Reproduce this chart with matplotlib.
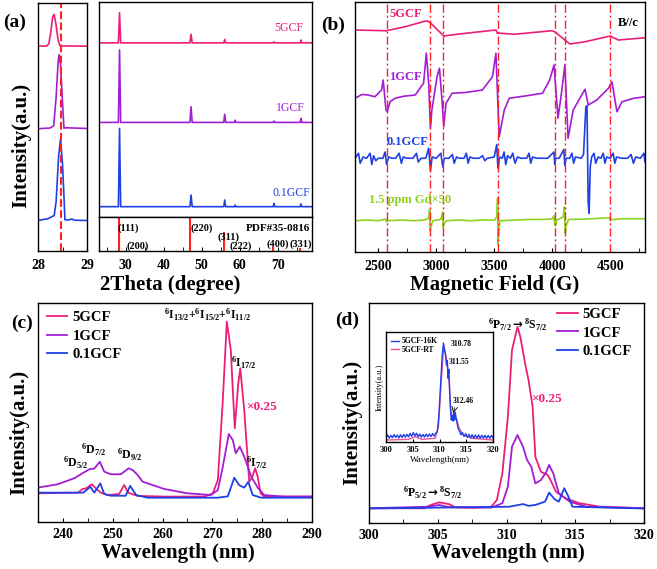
import matplotlib
matplotlib.use('Agg')
import matplotlib.pyplot as plt
from matplotlib.ticker import MultipleLocator, NullLocator

plt.rcParams['font.family'] = ['Liberation Serif', 'DejaVu Serif']
plt.rcParams['font.weight'] = 'bold'
plt.rcParams['mathtext.fontset'] = 'custom'
plt.rcParams['mathtext.rm'] = 'Liberation Serif:bold'
plt.rcParams['mathtext.bf'] = 'Liberation Serif:bold'
plt.rcParams['mathtext.it'] = 'Liberation Serif:bold:italic'
plt.rcParams['mathtext.sf'] = 'DejaVu Sans:bold'
plt.rcParams['mathtext.default'] = 'bf'
plt.rcParams['axes.linewidth'] = 1.0
plt.rcParams['xtick.direction'] = 'in'
plt.rcParams['ytick.direction'] = 'in'

PINK = '#EB1E78'
PURPLE = '#A21ED4'
BLUE = '#1E40E6'
GREEN = '#8CD21E'
RED = '#FF2020'

# ---------------- (a) XRD, zoom 28-29 deg
zx5 = [28.0, 28.18, 28.22, 28.26, 28.3, 28.33, 28.37, 28.41, 28.45, 29.0]
zy5 = [82.6, 82.7, 83.5, 88.0, 94.5, 95.4, 91.0, 85.0, 82.7, 82.6]
zx1 = [28.0, 28.25, 28.32, 28.37, 28.41, 28.43, 28.46, 28.5, 28.53, 28.56, 29.0]
zy1 = [49.3, 49.6, 50.5, 62.0, 76.0, 79.2, 75.0, 60.0, 49.5, 49.7, 49.4]
zx01 = [28.0, 28.2, 28.33, 28.37, 28.42, 28.46, 28.5, 28.53, 28.55, 28.62, 28.69, 28.75, 29.0]
zy01 = [12.3, 13.0, 14.3, 20.0, 38.0, 45.2, 35.0, 22.0, 12.6, 12.5, 12.9, 12.4, 12.3]
ref_line = 28.46

# ---------------- (a) XRD, full range
xrd_x = [23, 28.1, 28.4, 28.7, 46.9, 47.2, 47.5, 55.8, 56.05, 56.3, 58.6, 58.8, 59.0,
         68.8, 69.0, 69.2, 75.9, 76.1, 76.3, 79]
xrd5 = [81, 81, 95, 81, 81, 85, 81, 81, 82.6, 81, 81, 81, 81,
        81, 81.5, 81, 81, 82.3, 81, 81]
xrd1 = [44, 44, 77.7, 44, 44, 51.3, 44, 44, 47.8, 44, 44, 45, 44,
        44, 44.6, 44, 44, 45.9, 44, 44]
xrd01 = [4.8, 4.8, 41.2, 4.8, 4.8, 10.2, 4.8, 4.8, 7.9, 4.8, 4.8, 5.5, 4.8,
         4.8, 6.3, 4.8, 4.8, 6.1, 4.8, 4.8]
pdf_pos = [28.27, 47.0, 55.76, 68.67, 75.85]
pdf_int = [100, 100, 57, 13, 9]

# ---------------- (b) EPR
epr_lines = [2572, 2943, 3057, 3529, 4022, 4109, 4500]
e5_x = [2300, 2570, 2732, 2917, 2950, 3065, 3196, 3515, 3526, 3674, 3996, 4022, 4152,
        4283, 4500, 4570, 4804]
e5_y = [88.8, 88.5, 90.1, 92.5, 91.7, 86.4, 87.2, 88.8, 87.6, 87.1, 88.5, 88.1, 83.2,
        84.1, 86.4, 84.8, 85.7]
e1_x = [2300, 2360, 2413, 2471, 2529, 2543, 2567, 2578, 2602, 2645, 2720, 2819, 2891,
        2915, 2935, 2950, 2963, 3007, 3028, 3050, 3065, 3085, 3137, 3250, 3398, 3485,
        3515, 3543, 3587, 3630, 3780, 3917, 3978, 4016, 4050, 4080, 4109, 4137, 4181,
        4283, 4311, 4384, 4485, 4515, 4558, 4602, 4703, 4804]
e1_y = [61.5, 63.0, 62.8, 62.1, 64.8, 68.8, 56.8, 56.1, 60.1, 61.5, 62.3, 62.8, 67.5,
        79.5, 67.6, 49.5, 56.8, 70.1, 73.5, 60.8, 50.1, 59.5, 63.5, 63.8, 64.8, 70.1,
        79.5, 46.1, 56.8, 61.5, 62.5, 63.5, 68.8, 74.8, 53.5, 63.6, 74.8, 45.5, 56.8,
        65.1, 58.8, 60.8, 65.5, 68.1, 56.1, 60.1, 61.5, 62.1]
e01_x = [2300, 2330, 2345, 2370, 2400, 2430, 2445, 2460, 2480, 2500, 2540, 2560, 2572,
         2590, 2620, 2650, 2680, 2700, 2715, 2750, 2800, 2830, 2845, 2870, 2910, 2935,
         2943, 2950, 2965, 3000, 3040, 3057, 3070, 3110, 3140, 3155, 3175, 3200, 3240,
         3260, 3275, 3290, 3320, 3370, 3400, 3420, 3440, 3500, 3522, 3529, 3535, 3545,
         3570, 3585, 3600, 3615, 3640, 3660, 3680, 3700, 3730, 3780, 3800, 3815, 3830,
         3870, 3920, 3960, 4015, 4022, 4030, 4060, 4100, 4109, 4120, 4150, 4170, 4185,
         4200, 4250, 4270, 4290, 4300, 4310, 4318, 4328, 4340, 4360, 4375, 4395, 4420,
         4440, 4455, 4470, 4500, 4525, 4540, 4555, 4600, 4650, 4680, 4700, 4720, 4760,
         4790, 4800]
e01_y = [37.5, 39.5, 35.5, 38, 37.5, 39.5, 35, 38.5, 36.5, 37.5, 37.5, 40, 35,
         38, 37.5, 37.5, 39.5, 35.5, 38, 37.5, 37.5, 39.5, 36, 37.5, 37.5, 41.5,
         37, 32.5, 38, 37.5, 39.5, 34, 37.5, 37.5, 39, 35.5, 38, 37.5, 37.5,
         39.5, 35.5, 38, 37.5, 37.5, 38.5, 36.5, 37.5, 38, 43, 36, 33.5, 38,
         37.5, 40, 35, 38.5, 37.5, 39.5, 35.5, 38, 37.5, 37.5, 39.5, 35.5, 38,
         37.5, 37.5, 37.5, 40, 35, 37.5, 37.5, 41, 34.5, 37.5, 37.5, 39.5, 35.5,
         38, 37.5, 39, 58, 58.5, 20, 15.5, 34, 38, 39.5, 35.5, 38, 37.5,
         39.5, 35.5, 38, 37.5, 39.5, 35.5, 38, 37.5, 37.5, 39, 35.5, 38, 37.5,
         39.5, 36]
eg_x = [2300, 2400, 2500, 2565, 2572, 2580, 2700, 2800, 2900, 2935, 2943, 2948, 2955,
        2970, 3040, 3055, 3060, 3068, 3090, 3200, 3300, 3400, 3500, 3522, 3529, 3534,
        3540, 3550, 3700, 3800, 3900, 4000, 4015, 4022, 4028, 4040, 4095, 4105, 4112,
        4120, 4140, 4300, 4495, 4500, 4505, 4600, 4800]
eg_y = [12.5, 12.8, 12.5, 13.2, 12.0, 12.5, 12.8, 12.5, 12.8, 13.5, 17.0, 8.5, 10.0,
        12.5, 13.0, 16.0, 9.5, 11.5, 12.5, 12.8, 12.5, 12.8, 12.7, 14.0, 21.5, 2.8,
        8.0, 12.5, 12.8, 13.0, 13.0, 13.2, 14.5, 11.0, 10.5, 12.8, 14.0, 18.0, 7.5,
        10.5, 13.0, 13.2, 13.7, 12.5, 12.9, 13.3, 13.3]

# ---------------- (c) excitation spectra
c5_x = [235.2, 243.0, 244.0, 244.6, 245.8, 246.6, 247.6, 249.0, 251.3, 252.3, 253.1,
        255.0, 260.3, 268.4, 270.1, 271.1, 272.1, 272.9, 273.7, 274.5, 275.2, 275.6,
        276.4, 277.4, 277.9, 278.6, 279.1, 279.7, 280.4, 290.0]
c5_y = [13.1, 13.4, 15.1, 15.3, 17.2, 15.4, 13.4, 12.3, 12.8, 16.9, 13.4,
        11.9, 11.6, 11.6, 13.1, 19.2, 55.7, 91.5, 78.5, 42.8, 63.3, 70.2,
        51.1, 18.4, 20.0, 24.5, 20.7, 13.1, 11.6, 11.6]
c1_x = [235.2, 238.9, 242.3, 243.9, 245.3, 246.3, 247.4, 248.3, 249.6, 251.6, 253.2,
        254.0, 255.0, 256.0, 260.3, 265.0, 269.7, 271.1, 272.1, 273.3, 274.1, 274.7,
        275.5, 276.4, 277.8, 279.1, 280.4, 284.3, 290.0]
c1_y = [15.8, 17.2, 20.0, 22.2, 24.1, 24.4, 27.5, 23.0, 21.8, 21.8, 24.5,
        23.7, 21.5, 18.4, 15.1, 13.1, 12.3, 14.6, 25.3, 40.2, 37.4, 31.4,
        34.4, 29.8, 20.7, 15.7, 12.3, 11.6, 11.6]
c01_x = [235.2, 244.1, 245.5, 246.3, 247.5, 248.3, 249.6, 252.6, 253.5, 254.7, 257.0,
         271.1, 273.1, 274.4, 275.4, 276.4, 277.2, 278.1, 279.8, 290.0]
c01_y = [13.4, 13.4, 16.1, 13.4, 17.6, 12.8, 12.0, 12.0, 16.5, 12.3, 11.1,
         11.1, 11.7, 20.2, 16.8, 15.7, 18.3, 12.3, 11.1, 11.1]

# ---------------- (d) emission spectra
d5_x = [300.0, 304.0, 304.5, 305.1, 305.8, 306.3, 307.7, 308.9, 309.3, 309.7, 310.1,
        310.4, 310.8, 311.0, 311.4, 311.6, 311.9, 312.1, 312.5, 313.0, 313.2, 313.6,
        314.3, 315.3, 316.8, 320.0]
d5_y = [6.7, 6.7, 8.2, 9.4, 8.6, 7.1, 6.9, 7.4, 10.5, 22.6, 48.3,
        78.6, 89.2, 84.7, 71.0, 65.0, 52.9, 30.1, 23.3, 21.8, 19.5, 14.2,
        11.2, 9.0, 7.4, 6.7]
d1_x = [300.0, 304.3, 305.1, 305.8, 308.9, 309.7, 310.1, 310.4, 310.8, 311.2, 311.5,
        311.8, 312.1, 312.5, 312.9, 313.1, 313.4, 313.8, 314.6, 315.8, 320.0]
d1_y = [6.7, 7.4, 8.2, 7.2, 7.0, 9.0, 16.5, 34.7, 40.0, 34.7, 28.6,
        25.6, 18.0, 19.5, 23.3, 26.4, 22.6, 13.5, 9.7, 7.4, 6.7]
d01_x = [300.0, 310.2, 311.2, 311.6, 312.1, 312.8, 313.1, 313.5, 313.8, 314.2, 314.5,
         314.8, 320.0]
d01_y = [6.6, 7.4, 8.6, 7.8, 8.2, 9.7, 13.8, 10.8, 9.7, 15.8, 12.0,
         7.4, 6.6]

# inset: 5GCF at 16 K and room temperature
rt_x = [300.1, 304.2, 305.4, 306.7, 309.2, 309.8, 310.3, 310.8, 311.3, 311.8, 312.1,
        312.6, 313.2, 313.7, 314.4, 316.0, 320.0]
rt_y = [1.8, 2.4, 4.8, 2.4, 3.4, 13.9, 53.4, 88.2, 76.1, 56.4, 29.1,
        20.0, 20.6, 12.4, 6.4, 3.4, 1.8]
lt_x = [300.0, 300.3, 300.6, 300.9, 301.2, 301.5, 301.8, 302.1, 302.4, 302.7, 303.0,
        303.3, 303.6, 303.9, 304.2, 304.5, 304.8, 305.1, 305.4, 305.7, 306.0, 306.3,
        306.6, 306.9, 307.2, 307.5, 307.8, 308.1, 308.4, 308.7, 309.0, 309.3, 309.6,
        309.9, 310.2, 310.5, 310.75, 310.9, 311.1, 311.3, 311.45, 311.6, 311.75, 311.9,
        312.05, 312.2, 312.35, 312.5, 312.65, 312.8, 312.95, 313.1, 313.25, 313.4, 313.6,
        313.8, 314.0, 314.3, 314.6, 314.9, 315.2, 315.5, 315.8, 316.1, 316.4, 316.7,
        317.0, 317.3, 317.6, 317.9, 318.2, 318.5, 318.8, 319.1, 319.4, 319.7, 320.0]
lt_y = [4.0, 6.5, 3.5, 6.0, 3.8, 6.8, 4.2, 6.3, 3.6, 6.6, 4.0,
        6.9, 4.3, 7.0, 4.6, 7.8, 5.2, 8.6, 5.6, 8.0, 4.8, 7.2,
        4.4, 6.9, 4.5, 7.1, 4.8, 7.3, 5.0, 7.6, 5.4, 8.0, 9.5,
        25, 52, 78, 90, 84, 80, 70, 74, 58, 66, 45,
        30, 20, 24, 19, 26, 20, 27, 22, 18, 14, 11,
        9.5, 6.5, 8.5, 5.0, 7.6, 4.2, 7.0, 3.8, 6.6, 3.5, 6.3,
        3.6, 6.4, 3.4, 6.2, 3.5, 6.1, 3.3, 6.0, 3.4, 5.9, 3.8]

W, H = 657, 569


def rect(l, t, r, b):
    return [l / W, 1 - b / H, (r - l) / W, (b - t) / H]


def ftext(x, y, s, **kw):
    fig.text(x / W, 1 - y / H, s, ha='center', va='center', **kw)


def clean_y(ax):
    ax.yaxis.set_major_locator(NullLocator())
    ax.yaxis.set_minor_locator(NullLocator())


def style_x(ax, major, minor, pad=6):
    ax.xaxis.set_major_locator(MultipleLocator(major))
    ax.xaxis.set_minor_locator(MultipleLocator(minor))
    ax.tick_params(axis='x', labelsize=TICK, length=3, pad=pad)
    ax.tick_params(axis='x', which='minor', length=3)


fig = plt.figure(figsize=(W / 100, H / 100), dpi=100)
TICK = 10

# ---- (a) left
axa1 = fig.add_axes(rect(38, 3, 87, 251))
axa1.plot(zx5, zy5, color=PINK, lw=1.2)
axa1.plot(zx1, zy1, color=PURPLE, lw=1.2)
axa1.plot(zx01, zy01, color=BLUE, lw=1.2)
axa1.axvline(ref_line, color=RED, ls='--', lw=1.5)
axa1.set_xlim(28, 29)
axa1.set_ylim(0, 100)
style_x(axa1, 1, 0.5)
clean_y(axa1)

# ---- (a) right
axa2 = fig.add_axes(rect(99, 2, 312, 217))
axa2.plot(xrd_x, xrd5, color=PINK, lw=1.2)
axa2.plot(xrd_x, xrd1, color=PURPLE, lw=1.2)
axa2.plot(xrd_x, xrd01, color=BLUE, lw=1.2)
axa2.set_xlim(23, 79)
axa2.set_ylim(0, 100)
axa2.xaxis.set_major_locator(NullLocator())
clean_y(axa2)
axa2.text(72.9, 88, '5GCF', color=PINK, fontsize=8.5, fontweight='normal', ha='center', va='center')
axa2.text(73.2, 50.7, '1GCF', color=PURPLE, fontsize=8.5, fontweight='normal', ha='center', va='center')
axa2.text(73.7, 11.2, '0.1GCF', color=BLUE, fontsize=8.5, fontweight='normal', ha='center', va='center')

axp = fig.add_axes(rect(99, 217, 312, 251))
axp.vlines(pdf_pos, 0, pdf_int, color=RED, lw=1.5)
axp.set_xlim(23, 79)
axp.set_ylim(0, 100)
style_x(axp, 10, 5)
clean_y(axp)
for s, x, y in [('(111)', 30.8, 67.6), ('(220)', 50.1, 67.6), ('(311)', 57.0, 41),
                ('(200)', 33.2, 14.7), ('(222)', 60.2, 14.7), ('(400)', 70.0, 20.6),
                ('(331)', 76.1, 20.6)]:
    axp.text(x, y, s, fontsize=7.5, ha='center', va='center')
axp.text(78.5, 67.6, 'PDF#35-0816', fontsize=8, ha='right', va='center')

# ---- (b)
axb = fig.add_axes(rect(355, 2, 645, 252))
axb.plot(e5_x, e5_y, color=PINK, lw=1.2)
axb.plot(e1_x, e1_y, color=PURPLE, lw=1.2)
axb.plot(e01_x, e01_y, color=BLUE, lw=1.2)
axb.plot(eg_x, eg_y, color=GREEN, lw=1.2)
for g in epr_lines:
    axb.axvline(g, color=RED, lw=1.0, dashes=(6, 2, 1.5, 2))
axb.set_xlim(2300, 4800)
axb.set_ylim(0, 100)
style_x(axb, 500, 250)
clean_y(axb)
axb.text(2735, 95.2, '5GCF', color=PINK, fontsize=9, ha='center', va='center')
axb.text(2735, 70, '1GCF', color=PURPLE, fontsize=9, ha='center', va='center')
axb.text(2752, 44, '0.1GCF', color=BLUE, fontsize=9, ha='center', va='center')
axb.text(2778, 20.8, '1.5 ppm Gd×50', color=GREEN, fontsize=9, ha='center', va='center')
axb.text(4657, 91.6, 'B//c', color='black', fontsize=9, ha='center', va='center')

# ---- (c)
axc = fig.add_axes(rect(38, 303, 312, 522))
axc.plot(c5_x, c5_y, color=PINK, lw=1.3, label='5GCF')
axc.plot(c1_x, c1_y, color=PURPLE, lw=1.3, label='1GCF')
axc.plot(c01_x, c01_y, color=BLUE, lw=1.3, label='0.1GCF')
axc.set_xlim(235, 290)
axc.set_ylim(0, 100)
style_x(axc, 10, 5, pad=4)
clean_y(axc)
axc.legend(frameon=False, loc='upper left', bbox_to_anchor=(0.033, 0.963), borderpad=0,
           borderaxespad=0, handlelength=1.4, handletextpad=0.35, labelspacing=0.35,
           prop={'size': 10.5, 'weight': 'bold'})
ann = dict(fontsize=8.5, ha='center', va='center')
axc.text(269.1, 94.5, r'$^{6}$I$_{13/2}$+$^{6}$I$_{15/2}$+$^{6}$I$_{11/2}$', **ann)
axc.text(276.3, 72.6, r'$^{6}$I$_{17/2}$', **ann)
axc.text(278.8, 26.9, r'$^{6}$I$_{7/2}$', **ann)
axc.text(242.6, 26.9, r'$^{6}$D$_{5/2}$', **ann)
axc.text(246.2, 32.9, r'$^{6}$D$_{7/2}$', **ann)
axc.text(253.3, 30.6, r'$^{6}$D$_{9/2}$', **ann)
axc.text(279.8, 52.5, '×0.25', color=PINK, fontsize=9.5, ha='center', va='center')

# ---- (d)
axd = fig.add_axes(rect(369, 303, 644, 523))
axd.plot(d5_x, d5_y, color=PINK, lw=1.3, label='5GCF')
axd.plot(d1_x, d1_y, color=PURPLE, lw=1.3, label='1GCF')
axd.plot(d01_x, d01_y, color=BLUE, lw=1.3, label='0.1GCF')
axd.set_xlim(300, 320)
axd.set_ylim(0, 100)
style_x(axd, 5, 2.5, pad=4)
clean_y(axd)
axd.legend(frameon=False, loc='upper left', bbox_to_anchor=(0.684, 0.977), borderpad=0,
           borderaxespad=0, handlelength=1.4, handletextpad=0.35, labelspacing=0.35,
           prop={'size': 10.5, 'weight': 'bold'})
arrow = r'$\mathsf{\rightarrow}$'
axd.text(310.8, 90, r'$^{6}$P$_{7/2}$' + arrow + r'$^{8}$S$_{7/2}$', **ann)
axd.text(304.6, 13.6, r'$^{6}$P$_{5/2}$' + arrow + r'$^{8}$S$_{7/2}$', **ann)
axd.text(312.9, 56.4, '×0.25', color=PINK, fontsize=9.5, ha='center', va='center')

# ---- inset
axi = fig.add_axes(rect(386, 332, 493, 442))
axi.plot(rt_x, rt_y, color='#F050A0', lw=1.0, label='5GCF-RT')
axi.plot(lt_x, lt_y, color=BLUE, lw=1.0, label='5GCF-16K')
axi.set_xlim(300, 320)
axi.set_ylim(0, 100)
axi.xaxis.set_major_locator(MultipleLocator(5))
axi.tick_params(axis='x', labelsize=6, length=2, pad=3)
clean_y(axi)
h, l = axi.get_legend_handles_labels()
axi.legend(h[::-1], l[::-1], frameon=False, loc='upper left', borderpad=0.2,
           handlelength=1.0, handletextpad=0.3, labelspacing=0.1,
           prop={'size': 5.5, 'weight': 'bold'})
axi.set_xlabel('Wavelength(nm)', fontsize=6.5, labelpad=1.5)
axi.set_ylabel('Intensity(a.u.)', fontsize=6, labelpad=2)
axi.text(312.0, 89, '310.78', fontsize=5.5, ha='left', va='center')
axi.text(311.8, 72.7, '311.55', fontsize=5.5, ha='left', va='center')
axi.text(312.5, 37.3, '312.46', fontsize=5.5, ha='left', va='center')
axi.annotate('', xy=(312.5, 23.6), xytext=(312.9, 33.6),
             arrowprops=dict(arrowstyle='->', lw=0.6, color='black'))

# ---- figure labels
ftext(15, 22, '(a)', fontsize=14)
ftext(333, 25, '(b)', fontsize=14)
ftext(22, 323, '(c)', fontsize=14)
ftext(347, 320, '(d)', fontsize=14)
ftext(21, 145, 'Intensity(a.u.)', fontsize=15, rotation=90)
ftext(19, 432, 'Intensity(a.u.)', fontsize=15, rotation=90)
ftext(352, 422, 'Intensity(a.u.)', fontsize=15, rotation=90)
ftext(170, 285, '2Theta (degree)', fontsize=15)
ftext(495, 285, 'Magnetic Field (G)', fontsize=15)
ftext(178, 553, 'Wavelength (nm)', fontsize=15)
ftext(508, 553, 'Wavelength (nm)', fontsize=15)

fig.savefig('out.png', dpi=100)
